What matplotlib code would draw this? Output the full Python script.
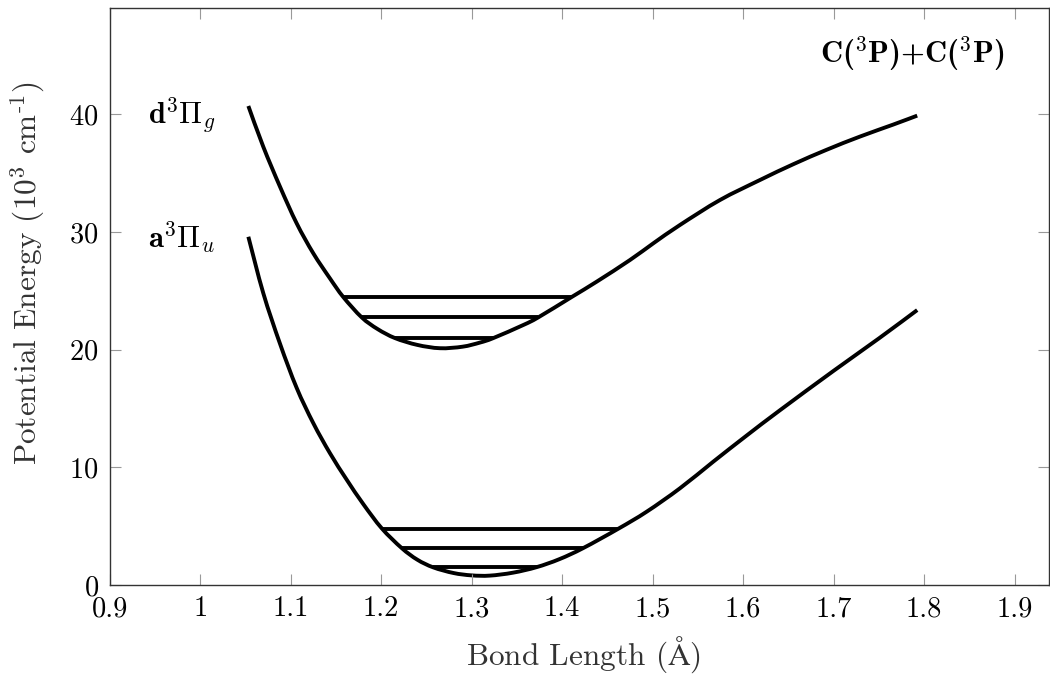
import matplotlib
matplotlib.use("Agg")
import matplotlib.pyplot as plt
from matplotlib.path import Path
from matplotlib.patches import PathPatch

plt.rcParams['font.family'] = ['cmr10', 'DejaVu Serif']
plt.rcParams['mathtext.fontset'] = 'cm'
plt.rcParams['axes.unicode_minus'] = False
plt.rcParams['axes.formatter.use_mathtext'] = True

# a3Pi_u curve (bond length in A, energy in 10^3 cm-1)
a_x = [1.0532, 1.0697, 1.0882, 1.1066, 1.125, 1.1434, 1.1619, 1.1802, 1.2006, 1.2227,
       1.2400, 1.2576, 1.2800, 1.3000, 1.3200, 1.3457, 1.3718, 1.3970, 1.4233, 1.462,
       1.4934, 1.5302, 1.567, 1.6039, 1.6407, 1.70, 1.75, 1.7924]
a_y = [29.59, 24.80, 20.50, 16.75, 13.75, 11.20, 8.95, 6.88, 4.82, 3.14,
       2.15, 1.50, 1.02, 0.82, 0.80, 1.05, 1.52, 2.20, 3.14, 4.78,
       6.23, 8.22, 10.48, 12.70, 14.85, 18.20, 20.95, 23.36]

# d3Pi_g curve
d_x = [1.0532, 1.0697, 1.0882, 1.1066, 1.125, 1.1434, 1.1581, 1.1785, 1.1960, 1.2153,
       1.2400, 1.2650, 1.2900, 1.3092, 1.3239, 1.357, 1.3736, 1.4105, 1.4381, 1.4749,
       1.5007, 1.5302, 1.5744, 1.6186, 1.6554, 1.6923, 1.7291, 1.7659, 1.7924]
d_y = [40.70, 37.24, 33.84, 30.73, 28.18, 26.05, 24.47, 22.74, 21.75, 20.98,
       20.40, 20.12, 20.25, 20.60, 20.98, 22.09, 22.74, 24.47, 25.77, 27.61,
       29.03, 30.59, 32.71, 34.41, 35.75, 36.98, 38.10, 39.12, 39.88]

# vibrational levels: energy, left end, right end
a_lev = [1.50, 3.14, 4.78]
a_lev_left = [1.2576, 1.2227, 1.2006]
a_lev_right = [1.3718, 1.4233, 1.462]
d_lev = [20.98, 22.74, 24.47]
d_lev_left = [1.2153, 1.1785, 1.1581]
d_lev_right = [1.3239, 1.3736, 1.4105]

xticks = [0.9, 1.0, 1.1, 1.2, 1.3, 1.4, 1.5, 1.6, 1.7, 1.8, 1.9]
xtick_labels = ['0.9', '1', '1.1', '1.2', '1.3', '1.4', '1.5', '1.6', '1.7', '1.8', '1.9']
yticks = [0, 10, 20, 30, 40]


def smooth_path(xs, ys):
    # curve through the points, like pgfplots "smooth"
    pts = list(zip(xs, ys))
    verts = [pts[0]]
    codes = [Path.MOVETO]
    n = len(pts)
    for i in range(n - 1):
        p0 = pts[i - 1] if i > 0 else pts[i]
        p1 = pts[i]
        p2 = pts[i + 1]
        p3 = pts[i + 2] if i + 2 < n else pts[i + 1]
        c1 = (p1[0] + (p2[0] - p0[0]) / 6, p1[1] + (p2[1] - p0[1]) / 6)
        c2 = (p2[0] - (p3[0] - p1[0]) / 6, p2[1] - (p3[1] - p1[1]) / 6)
        verts += [c1, c2, p2]
        codes += [Path.CURVE4] * 3
    return Path(verts, codes)


fig = plt.figure(figsize=(10.5, 6.74), dpi=100)
ax = fig.add_axes([0.1045, 0.132, 0.8945, 0.8557])

lw = 2.8
for xs, ys in [(a_x, a_y), (d_x, d_y)]:
    ax.add_patch(PathPatch(smooth_path(xs, ys), facecolor='none', edgecolor='black',
                           lw=lw, capstyle='butt'))
ax.hlines(a_lev, a_lev_left, a_lev_right, color='black', lw=lw)
ax.hlines(d_lev, d_lev_left, d_lev_right, color='black', lw=lw)

ax.text(0.942, 39.25, r'$\mathbf{d}^3\Pi_g$', fontsize=22, ha='left', va='baseline')
ax.text(0.942, 28.6, r'$\mathbf{a}^3\Pi_u$', fontsize=22, ha='left', va='baseline')
ax.text(1.889, 44.35, 'C($^3$P)+C($^3$P)', fontsize=22, family='cmb10',
        ha='right', va='baseline')

ax.set_xlim(0.9, 1.938)
ax.set_ylim(0, 49)
ax.set_xticks(xticks)
ax.set_xticklabels(xtick_labels)
ax.set_yticks(yticks)
ax.tick_params(direction='in', length=8, width=0.8, color='#999999', labelsize=20.5,
               top=True, right=True, pad=8)
for s in ax.spines.values():
    s.set_linewidth(1.0)
    s.set_color('#333333')

ax.set_xlabel('Bond Length ($\\mathrm{\\AA}$)', fontsize=22.5, color='#333333')
ax.xaxis.set_label_coords(0.504, -0.086)
ax.set_ylabel('Potential Energy (10$^3$ cm$^{\\text{-}1}$)', fontsize=22.5, color='#333333',
              va='center')
ax.yaxis.set_label_coords(-0.087, 0.54)

fig.savefig('out.png', dpi=100)
